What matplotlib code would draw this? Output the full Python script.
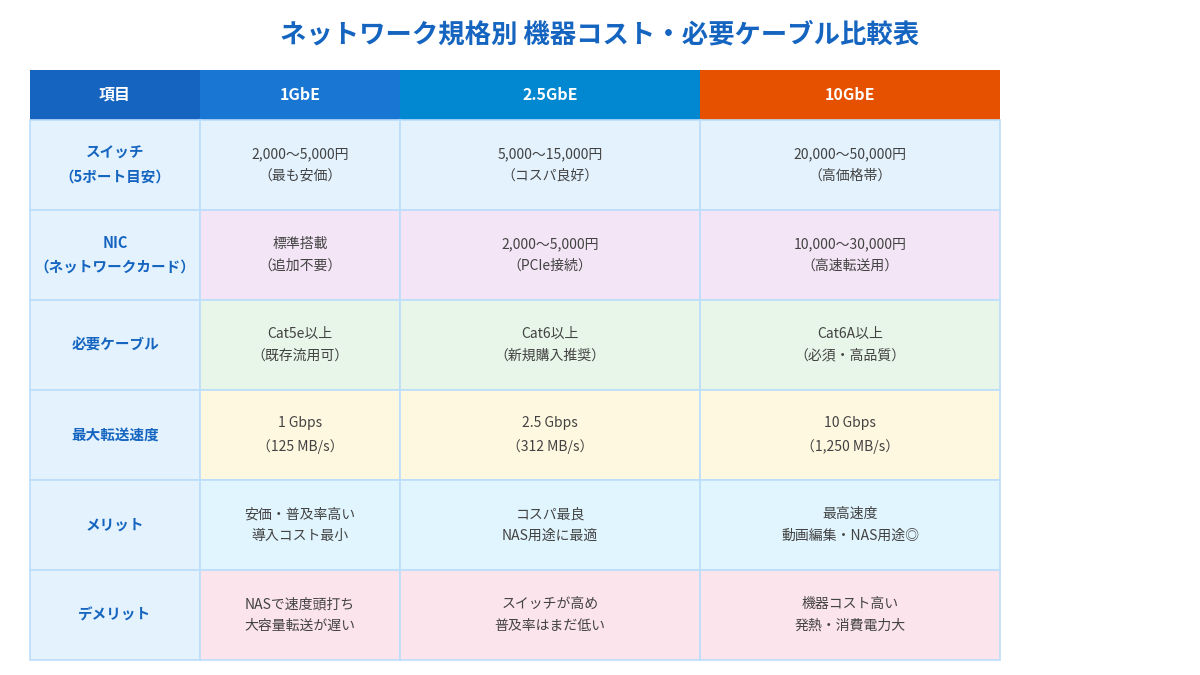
import matplotlib
matplotlib.use("Agg")
import matplotlib.pyplot as plt
from matplotlib.patches import Rectangle

plt.rcParams['font.family'] = ['Noto Sans CJK JP', 'DejaVu Sans']

# ── Data ─────────────────────────────────────────
title = "ネットワーク規格別 機器コスト・必要ケーブル比較表"
headers = ["項目", "1GbE", "2.5GbE", "10GbE"]
row_labels = ["スイッチ\n（5ポート目安）", "NIC\n（ネットワークカード）", "必要ケーブル",
              "最大転送速度", "メリット", "デメリット"]
col_1g = ["2,000〜5,000円\n（最も安価）", "標準搭載\n（追加不要）", "Cat5e以上\n（既存流用可）",
          "1 Gbps\n（125 MB/s）", "安価・普及率高い\n導入コスト最小", "NASで速度頭打ち\n大容量転送が遅い"]
col_25g = ["5,000〜15,000円\n（コスパ良好）", "2,000〜5,000円\n（PCIe接続）", "Cat6以上\n（新規購入推奨）",
           "2.5 Gbps\n（312 MB/s）", "コスパ最良\nNAS用途に最適", "スイッチが高め\n普及率はまだ低い"]
col_10g = ["20,000〜50,000円\n（高価格帯）", "10,000〜30,000円\n（高速転送用）", "Cat6A以上\n（必須・高品質）",
           "10 Gbps\n（1,250 MB/s）", "最高速度\n動画編集・NAS用途◎", "機器コスト高い\n発熱・消費電力大"]

# ── Styles ───────────────────────────────────────
header_colors = ["#1565C0", "#1976D2", "#0288D1", "#E65100"]
row_colors = ["#E3F2FD", "#F3E5F5", "#E8F5E9", "#FFF8E1", "#E1F5FE", "#FCE4EC"]
label_bg = "#E3F2FD"
border = "#BBDEFB"
col_x = [30, 200, 400, 700, 1000]
header_top, header_bot = 70, 120
row_h = 90

fig = plt.figure(figsize=(12, 6.75), dpi=100)
ax = fig.add_axes([0, 0, 1, 1])
ax.set_xlim(0, 1200)
ax.set_ylim(675, 0)
ax.axis("off")

ax.text(600, 35, title, ha="center", va="center", fontsize=19,
        fontweight="bold", color="#1565C0")

for j, h in enumerate(headers):
    x0, x1 = col_x[j], col_x[j + 1]
    ax.add_patch(Rectangle((x0, header_top), x1 - x0, header_bot - header_top,
                           facecolor=header_colors[j], edgecolor="none"))
    ax.text((x0 + x1) / 2, (header_top + header_bot) / 2, h, ha="center",
            va="center", fontsize=11.5, fontweight="bold", color="white")

columns = [row_labels, col_1g, col_25g, col_10g]
for i in range(len(row_labels)):
    y0 = header_bot + i * row_h
    for j, col in enumerate(columns):
        x0, x1 = col_x[j], col_x[j + 1]
        fc = label_bg if j == 0 else row_colors[i]
        ax.add_patch(Rectangle((x0, y0), x1 - x0, row_h, facecolor=fc,
                               edgecolor=border, linewidth=1.2))
        if j == 0:
            ax.text((x0 + x1) / 2, y0 + row_h / 2, col[i], ha="center", va="center",
                    fontsize=10.5, fontweight="bold", color="#1565C0", linespacing=1.6)
        else:
            ax.text((x0 + x1) / 2, y0 + row_h / 2, col[i], ha="center", va="center",
                    fontsize=10, color="#424242", linespacing=1.7)

fig.savefig("out.png", dpi=100, facecolor="white")
